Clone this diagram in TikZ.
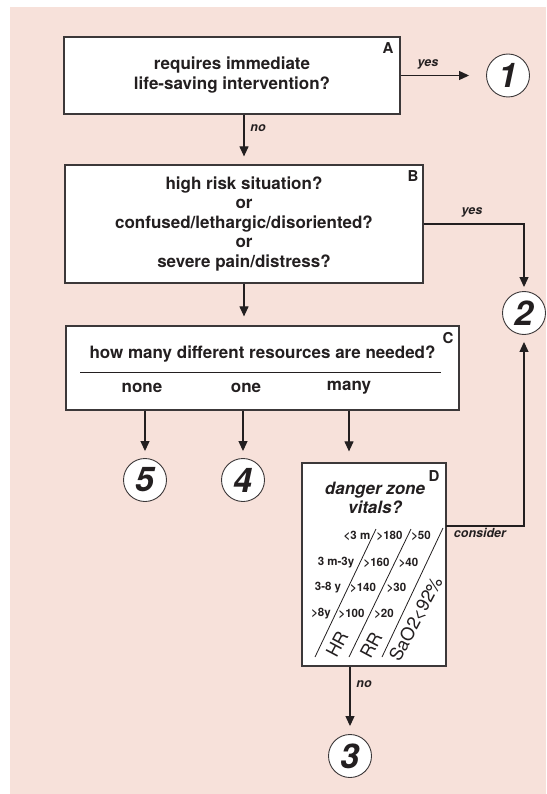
\documentclass[tikz,border=0pt]{standalone}
\usepackage{fontspec}
\setmainfont{TeX Gyre Heros}
\usetikzlibrary{arrows.meta}
\definecolor{bgpink}{RGB}{247,225,218}
\definecolor{ink}{RGB}{35,31,32}
\definecolor{boxline}{RGB}{60,56,57}
\tikzset{
  box/.style={draw=boxline, fill=white, line width=1.2pt, inner sep=0pt, text=ink, align=center},
  mainf/.style={font=\fontsize{17}{20}\selectfont\bfseries},
  circ/.style={circle, draw=boxline, fill=white, line width=0.9pt, minimum size=43pt, inner sep=0pt, text=ink,
    font=\fontsize{34}{34}\selectfont\bfseries\itshape},
  arr/.style={-{Triangle[length=10pt,width=9pt]}, line width=1.1pt, draw=ink},
  lbl/.style={font=\fontsize{12.5}{14}\selectfont\bfseries\itshape, text=ink},
  letter/.style={font=\fontsize{15}{15}\selectfont\bfseries, text=ink},
  vit/.style={font=\fontsize{11.5}{12}\selectfont\bfseries, text=ink, inner sep=0pt},
  rot/.style={font=\fontsize{18}{18}\selectfont, text=ink, inner sep=0pt, rotate=62},
  diag/.style={line width=0.8pt, draw=ink}
}
\begin{document}
\begin{tikzpicture}[x=1pt,y=-1pt]
\useasboundingbox (0,0) rectangle (546,794);
\fill[bgpink] (10,7) rectangle (546,794);

% Box A
\node[box, mainf, minimum width=336pt, minimum height=77pt] (A) at (232,75.5)
  {requires immediate\\life-saving intervention?};
\node[letter] (la) at (388,48) {A};
\node[circ] (c1) at (508,75.5) {1};
\draw[arr, shorten >=17pt] (A) -- (c1);
\node[lbl] (yesA) at (428,64) {yes};

% Box B
\node[box, font=\fontsize{17}{19.5}\selectfont\bfseries, minimum width=358pt, minimum height=118pt] (B) at (244,224)
  {high risk situation?\\or\\confused/lethargic/disoriented?\\or\\severe pain/distress?};
\node[letter] (lb) at (413,176) {B};
\draw[arr, shorten >=8pt] (A.south -| B.north) -- (B.north);
\node[lbl] (noA) at (258,128) {no};

\node[circ] (c2) at (524,313) {2};
\draw[arr, shorten >=4pt] (B.east) -| (c2.north);
\node[lbl] (yesB) at (472,212) {yes};

% Box C
\node[box, minimum width=393pt, minimum height=84pt] (C) at (262.5,368) {};
\node[letter] (lc) at (448,338) {C};
\node[mainf, text=ink] (Cq) at (262.5,354) {how many different resources are needed?};
\draw[line width=1pt, ink] (80,372) -- (441,372);
\node[mainf, text=ink] (none) at (142,388) {none};
\node[mainf, text=ink] (one) at (246,388) {one};
\node[mainf, text=ink] (many) at (349,388) {many};
\draw[arr, shorten >=9pt] (B.south) -- (B.south |- C.north);

\node[circ] (c5) at (145,480) {5};
\node[circ] (c4) at (243,480) {4};
\draw[arr, shorten >=7pt] (C.south -| c5) -- (c5.north);
\draw[arr, shorten >=7pt] (C.south -| c4) -- (c4.north);

% Box D
\node[box, minimum width=144pt, minimum height=203pt] (D) at (374,564.5) {};
\node[letter] (ld) at (434,476) {D};
\node[font=\fontsize{17}{19}\selectfont\bfseries\itshape, text=ink, align=center] (Dq) at (375,497.5) {danger zone\\vitals?};
\draw[arr, shorten >=11pt] (C.south -| many) -- (D.north -| many);

% vitals table
\draw[diag] (315,657) -- (376,529);
\draw[diag] (349,657) -- (411,529);
\draw[diag] (382,657) -- (443,528);
\node[vit] (r1a) at (357,536) {<3 m};
\node[vit] (r1b) at (389.5,536) {>180};
\node[vit] (r1c) at (421,536) {>50};
\node[vit] (r2a) at (336,563) {3 m-3y};
\node[vit] (r2b) at (376.5,563) {>160};
\node[vit] (r2c) at (408.5,563) {>40};
\node[vit] (r3a) at (328,588) {3-8 y};
\node[vit] (r3b) at (363,588) {>140};
\node[vit] (r3c) at (396.5,588) {>30};
\node[vit] (r4a) at (321,614) {>8y};
\node[vit] (r4b) at (351.5,614) {>100};
\node[vit] (r4c) at (384,614) {>20};
\node[rot] (hr) at (337,644) {HR};
\node[rot] (rr) at (371,645) {RR};
\node[rot] (sao) at (416,619) {SaO2<92\%};

% consider
\coordinate (Dc) at (446,526);
\draw[arr, shorten >=7pt] (Dc) -| (c2.south);
\node[lbl] (cons) at (480,533) {consider};

% Box D -> 3
\node[circ] (c3) at (350,756) {3};
\draw[arr, shorten >=8pt] (D.south -| c3) -- (c3.north);
\node[lbl] (noD) at (364,684) {no};
\end{tikzpicture}
\end{document}
